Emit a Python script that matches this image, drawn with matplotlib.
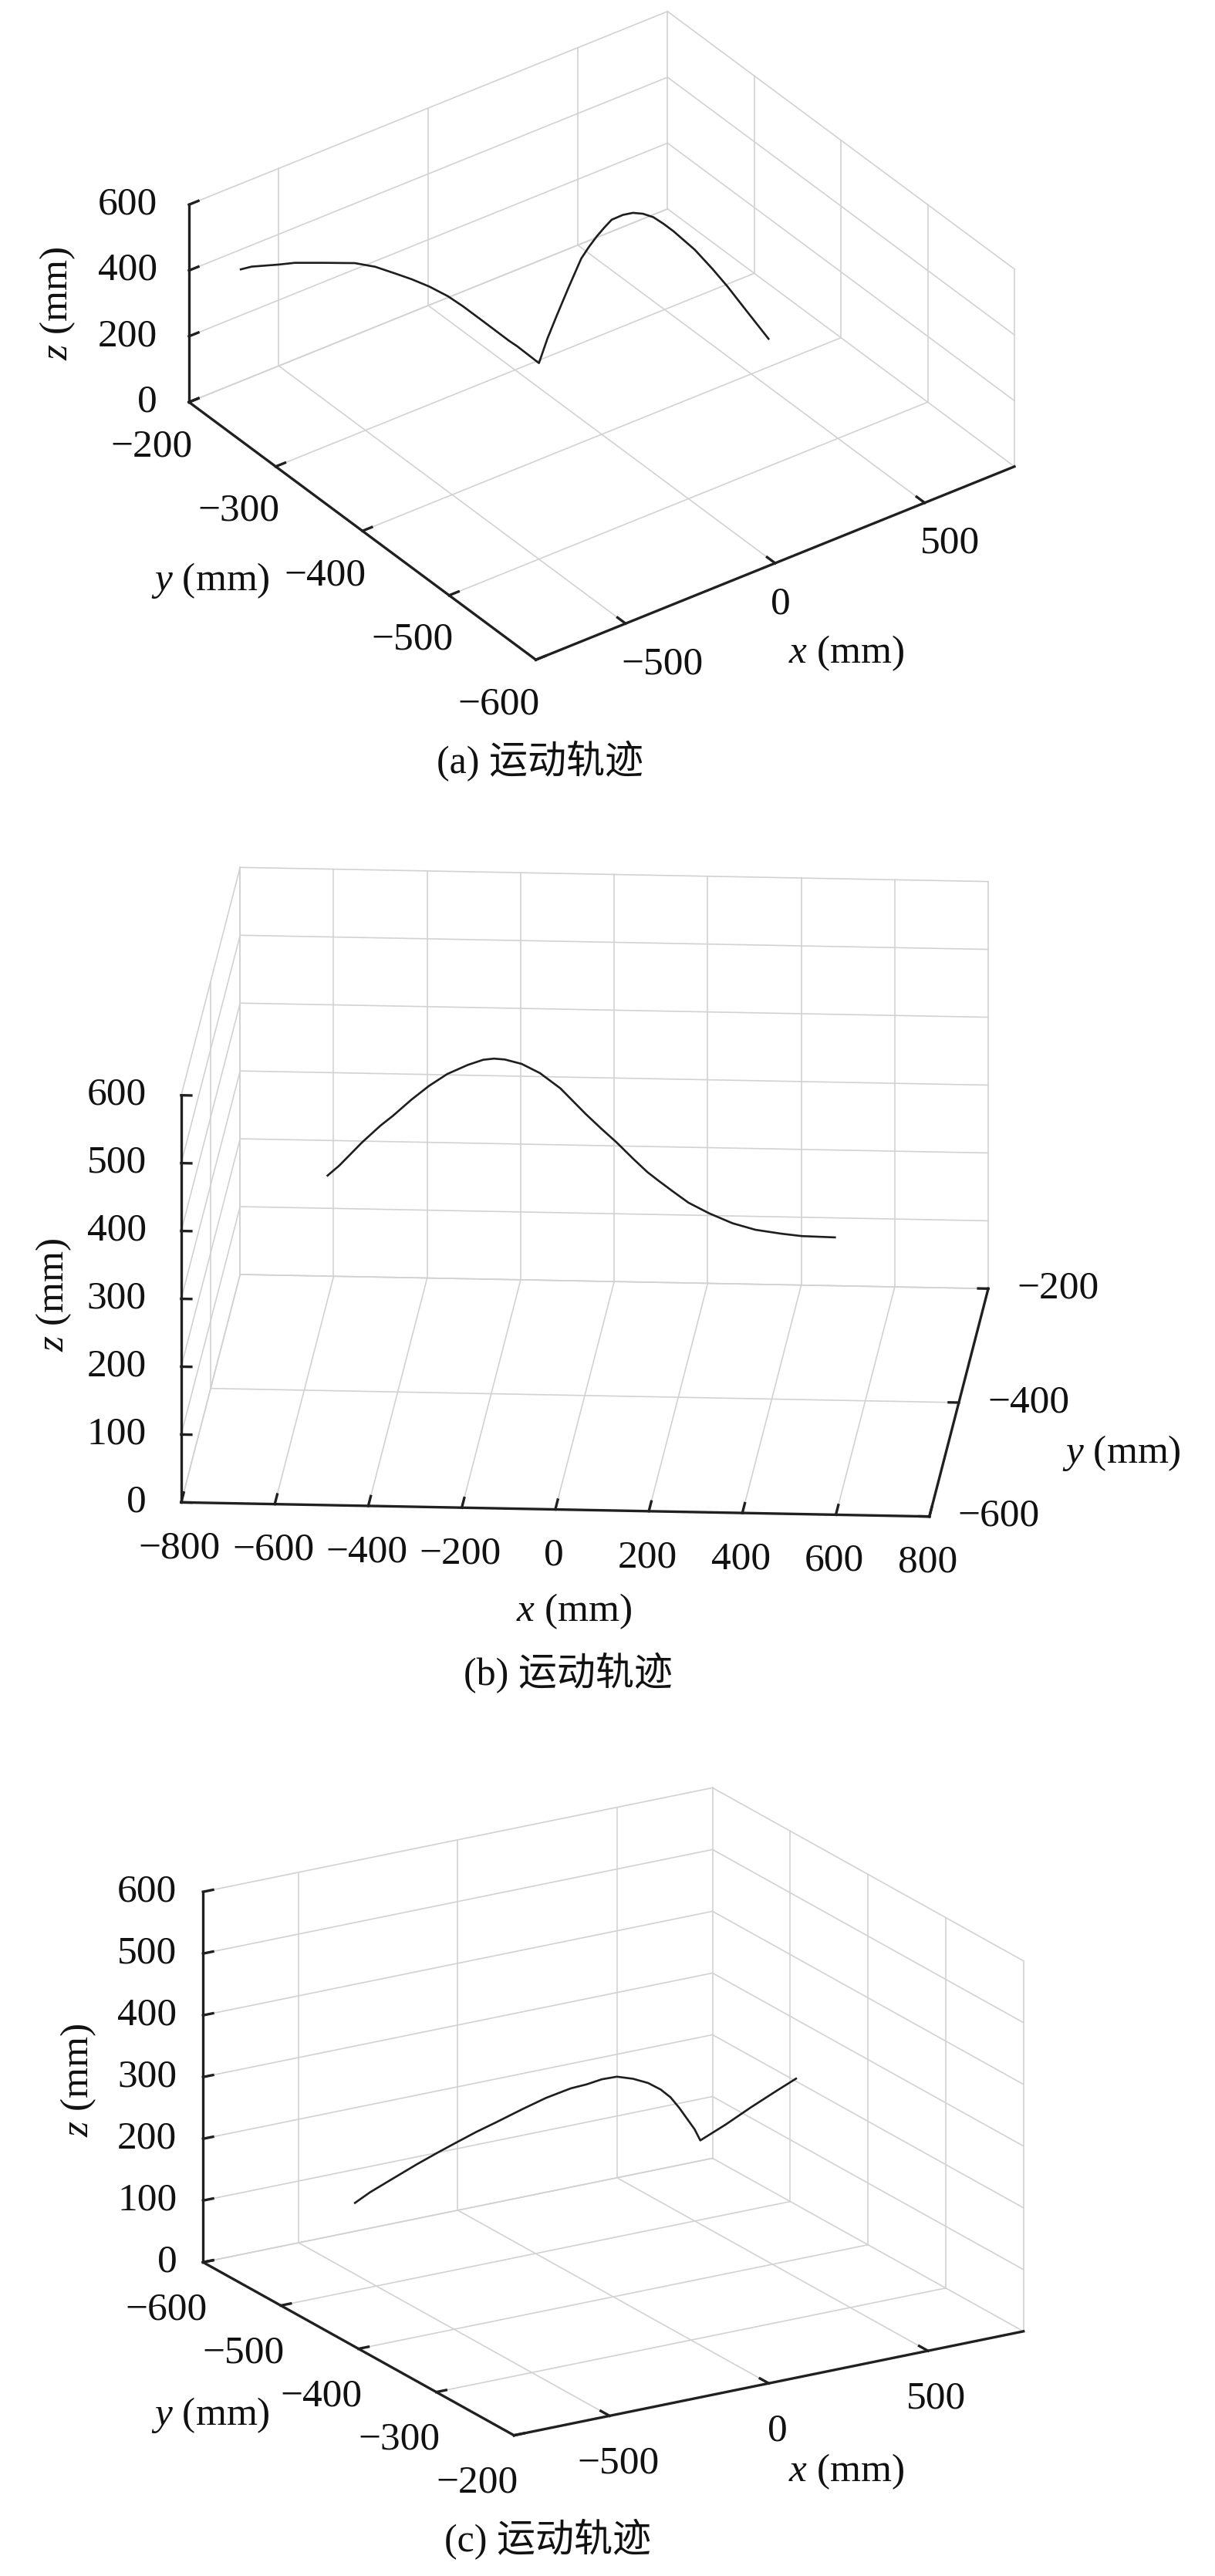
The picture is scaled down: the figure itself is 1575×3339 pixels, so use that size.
import numpy as np
import matplotlib
matplotlib.use("Agg")
import matplotlib.pyplot as plt
from matplotlib.transforms import IdentityTransform

plt.rcParams['font.family'] = ['Liberation Serif', 'Noto Sans CJK SC', 'DejaVu Sans']
plt.rcParams['mathtext.fontset'] = 'custom'
plt.rcParams['mathtext.rm'] = 'Liberation Serif'
plt.rcParams['mathtext.it'] = 'Liberation Serif:italic'

W, H = 1575, 3339
DPI = 100
FS = 37

# (a) trajectory, mm
a_x = [-650, -625, -569, -533, -469, -402, -357, -313, -279, -240, -201, -168, -123, -68, -51,
       -4, 16, 36, 61, 88, 105, 122, 139, 155, 178, 200, 222, 245, 267, 289, 334, 373, 406,
       445, 494]
a_y = [-208, -212, -223, -230, -242, -254, -262, -271, -277, -284, -292, -298, -306, -317, -320,
       -329, -332, -336, -341, -346, -349, -352, -355, -358, -363, -367, -371, -375, -379, -383,
       -392, -399, -405, -413, -422]
a_z = [364, 371, 378, 384, 384, 382, 370, 350, 333, 310, 282, 251, 204, 146, 130,
       79, 153, 224, 310, 396, 431, 462, 489, 513, 529, 535, 532, 521, 501, 478, 423, 364, 310,
       239, 152]

# (b) trajectory, mm
b_x = [-550, -525, -476, -437, -410, -371, -333, -294, -250, -217, -194, -171, -135, -96, -52,
       2, 35, 68, 104, 134, 159, 189, 222, 266, 316, 365, 420, 464, 535]
b_y = [-400, -400, -400, -400, -400, -400, -400, -400, -400, -400, -400, -400, -400, -400, -400,
       -400, -400, -400, -400, -400, -400, -400, -400, -400, -400, -400, -400, -400, -400]
b_z = [317, 332, 367, 392, 407, 431, 452, 470, 484, 492, 494, 493, 487, 474, 452,
       415, 394, 374, 350, 331, 318, 303, 287, 272, 258, 249, 244, 241, 240]

# (c) trajectory, mm
c_x = [-550, -515, -467, -408, -355, -316, -272, -225, -166, -112, -71, -53, -18, 18,
       53, 89, 124, 154, 175, 195, 213, 231, 244, 302, 361, 420, 464]
c_y = [-507, -502, -495, -486, -478, -472, -465, -458, -449, -441, -435, -433, -427, -422,
       -417, -411, -406, -402, -398, -395, -393, -390, -388, -379, -371, -362, -355]
c_z = [135, 152, 172, 197, 218, 233, 250, 266, 287, 305, 316, 320, 327, 335,
       339, 336, 329, 318, 306, 289, 272, 254, 236, 262, 289, 316, 336]

x_ticks_a = [-500, 0, 500]
y_ticks_a = [-600, -500, -400, -300, -200]
z_ticks_a = [0, 200, 400, 600]
x_ticks_b = [-800, -600, -400, -200, 0, 200, 400, 600, 800]
y_ticks_b = [-600, -400, -200]
z_ticks_b = [0, 100, 200, 300, 400, 500, 600]
x_ticks_c = [-500, 0, 500]
y_ticks_c = [-600, -500, -400, -300, -200]
z_ticks_c = [0, 100, 200, 300, 400, 500, 600]

captions = ['(a) 运动轨迹', '(b) 运动轨迹', '(c) 运动轨迹']

GRID = '#d2d2d2'
AXC = '#202020'
LINEC = '#1e1e1e'

fig = plt.figure(figsize=(W / DPI, H / DPI), dpi=DPI)
fig.patch.set_facecolor('white')


def fmt(v):
    return f"{v:g}".replace('-', '\u2212')


def project(ax, pts):
    M = ax.get_proj()
    pts = np.asarray(pts, float)
    v = np.column_stack([pts, np.ones(len(pts))]) @ M.T
    xy = v[:, :2] / v[:, 3:4]
    return ax.transData.transform(xy)


panels = [
    dict(x=a_x, y=a_y, z=a_z, ticks=[x_ticks_a, y_ticks_a, z_ticks_a],
         lims=[(-800, 800), (-600, -200), (0, 600)],
         elev=33.2, azim=-126.4, box=(771, 758, 306), xlen=669, center=(780, 435),
         walls=[(1, -200), (0, 800), (2, 0)],
         axes=[dict(dim=2, base=[-800, -200, 0], tick=(0, 1), lab=('right', -41, 0)),
               dict(dim=1, base=[-800, 0, 0], tick=(0, 1), lab=('right', 5, 58)),
               dict(dim=0, base=[0, -600, 0], tick=(1, 1), lab=('left', -6, 53))],
         zlab=(75, 393), ylab=(273, 752), xlab=(1097, 847), cap=(700, 987)),
    dict(x=b_x, y=b_y, z=b_z, ticks=[x_ticks_b, y_ticks_b, z_ticks_b],
         lims=[(-800, 800), (-600, -200), (0, 600)],
         elev=15.7, azim=-86.0, box=(972, 1094, 548), xlen=970, center=(758, 1545),
         walls=[(0, -800), (1, -200), (2, 0)],
         axes=[dict(dim=2, base=[-800, -600, 0], tick=(0, 1), lab=('right', -45, 0)),
               dict(dim=0, base=[0, -600, 0], tick=(1, 1), lab=('center', -2, 60)),
               dict(dim=1, base=[800, 0, 0], tick=(0, -1), lab=('left', 37, 0))],
         zlab=(70, 1678), ylab=(1454, 1884), xlab=(744, 2089), cap=(736, 2169)),
    dict(x=c_x, y=c_y, z=c_z, ticks=[x_ticks_c, y_ticks_c, z_ticks_c],
         lims=[(-800, 800), (-200, -600), (0, 600)],
         elev=19.7, azim=-121.2, box=(772, 778, 510), xlen=674, center=(795, 2737),
         walls=[(1, -600), (0, 800), (2, 0)],
         axes=[dict(dim=2, base=[-800, -600, 0], tick=(0, 1), lab=('right', -34, 0)),
               dict(dim=1, base=[-800, 0, 0], tick=(0, 1), lab=('right', 5, 62)),
               dict(dim=0, base=[0, -200, 0], tick=(1, -1), lab=('center', 11, 62))],
         zlab=(102, 2696), ylab=(273, 3131), xlab=(1097, 3204), cap=(710, 3292)),
]

S = 1500
for i, p in enumerate(panels):
    cx, cy = p['center']
    rect = [cx / W - S / W / 2, 1 - cy / H - S / H / 2, S / W, S / H]
    ax = fig.add_axes(rect, projection='3d', computed_zorder=False)
    ax.set_facecolor((1, 1, 1, 0))
    ax.set_proj_type('ortho')
    lims = p['lims']
    ticks = p['ticks']

    # grid on the three back planes
    for fd, fv in p['walls']:
        o1, o2 = [d for d in range(3) if d != fd]
        for d1, d2 in ((o1, o2), (o2, o1)):
            for t in ticks[d1]:
                seg = np.zeros((2, 3))
                seg[:, fd] = fv
                seg[:, d1] = t
                seg[:, d2] = lims[d2]
                ax.plot(seg[:, 0], seg[:, 1], seg[:, 2], color=GRID, lw=1.2,
                        zorder=1, clip_on=False)

    ax.plot(p['x'], p['y'], p['z'], color=LINEC, lw=1.9, zorder=2, clip_on=False,
            solid_joinstyle='round')

    for ad in p['axes']:
        seg = np.array([ad['base'], ad['base']], float)
        seg[:, ad['dim']] = lims[ad['dim']]
        ax.plot(seg[:, 0], seg[:, 1], seg[:, 2], color=AXC, lw=2.4, zorder=3,
                clip_on=False, solid_capstyle='projecting')

    ax.set_xlim(*lims[0])
    ax.set_ylim(*lims[1])
    ax.set_zlim(*lims[2])
    ax.view_init(elev=p['elev'], azim=p['azim'])
    ax.set_box_aspect(p['box'])
    ax.set_axis_off()

    # scale and place the box like the reference
    fig.canvas.draw()
    q = project(ax, [[lims[0][0], lims[1][0], 0], [lims[0][1], lims[1][0], 0]])
    cur = np.hypot(*(q[1] - q[0]))
    ax.set_box_aspect(p['box'], zoom=p['xlen'] / cur)
    fig.canvas.draw()
    c = project(ax, [[np.mean(lims[0]), np.mean(lims[1]), np.mean(lims[2])]])[0]
    pos = ax.get_position()
    ax.set_position([pos.x0 + (cx - c[0]) / W, pos.y0 + ((H - cy) - c[1]) / H,
                     pos.width, pos.height])
    fig.canvas.draw()

    # ticks and tick labels
    for ad in p['axes']:
        d = ad['dim']
        td, sgn = ad['tick']
        pts = []
        for t in ticks[d]:
            pt = np.array(ad['base'], float)
            pt[d] = t
            pts.append(pt)
        pts = np.array(pts)
        step = np.zeros(3)
        step[td] = sgn * abs(lims[td][1] - lims[td][0]) * 0.01
        q = project(ax, [pts[0], pts[0] + step])
        tv = step * 13.0 / np.hypot(*(q[1] - q[0]))
        for pt in pts:
            seg = np.array([pt, pt + tv])
            ax.plot(seg[:, 0], seg[:, 1], seg[:, 2], color=AXC, lw=2.4, zorder=3,
                    clip_on=False)
        ha, dx, dy = ad['lab']
        qs = project(ax, pts)
        for t, (px, py) in zip(ticks[d], qs):
            fig.text(px + dx, py - dy, fmt(t), transform=IdentityTransform(),
                     ha=ha, va='center', fontsize=FS, color='#111111')

    fig.text(p['zlab'][0] / W, 1 - p['zlab'][1] / H, '$z$ (mm)', rotation=90,
             ha='center', va='center', fontsize=FS, color='#111111')
    fig.text(p['ylab'][0] / W, 1 - p['ylab'][1] / H, '$y$ (mm)',
             ha='center', va='center', fontsize=FS, color='#111111')
    fig.text(p['xlab'][0] / W, 1 - p['xlab'][1] / H, '$x$ (mm)',
             ha='center', va='center', fontsize=FS, color='#111111')
    fig.text(p['cap'][0] / W, 1 - p['cap'][1] / H, captions[i],
             ha='center', va='center', fontsize=36, color='#111111')

fig.savefig('out.png', dpi=DPI)
